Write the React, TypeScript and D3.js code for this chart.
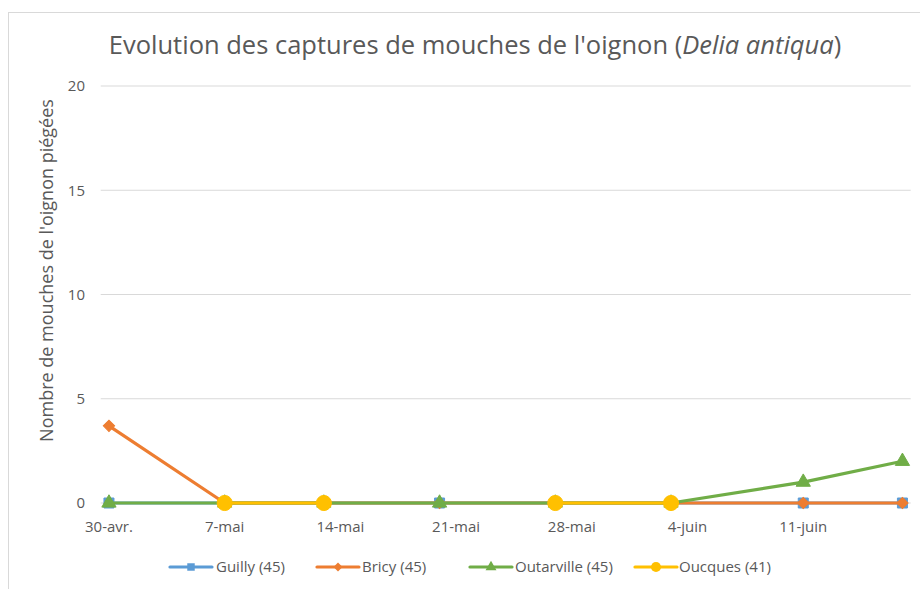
import React, { useEffect, useRef } from 'react';
import * as d3 from 'd3';

// sampling dates (date axis, as in the original workbook)
const dates = ['2021-04-30', '2021-05-07', '2021-05-13', '2021-05-20', '2021-05-27', '2021-06-03', '2021-06-11', '2021-06-17'];
const guilly: (number | null)[] = [0, 0, 0, 0, 0, 0, 0, 0];
const bricy: (number | null)[] = [3.7, 0, 0, 0, 0, 0, 0, 0];
const outarville: (number | null)[] = [0, 0, 0, 0, 0, 0, 1, 2];
const oucques: (number | null)[] = [null, 0, 0, null, 0, 0, null, null];

const tickDates = ['2021-04-30', '2021-05-07', '2021-05-14', '2021-05-21', '2021-05-28', '2021-06-04', '2021-06-11'];
const tickLabels = ['30-avr.', '7-mai', '14-mai', '21-mai', '28-mai', '4-juin', '11-juin'];
const yTicks = [0, 5, 10, 15, 20];

const series = [
  { name: 'Guilly (45)', values: guilly, color: '#5B9BD5', marker: 'square' },
  { name: 'Bricy (45)', values: bricy, color: '#ED7D31', marker: 'diamond' },
  { name: 'Outarville (45)', values: outarville, color: '#70AD47', marker: 'triangle' },
  { name: 'Oucques (41)', values: oucques, color: '#FFC000', marker: 'circle' },
];

const FONT = '"Open Sans", sans-serif';
const DAY = 86400000;
const toDate = (s: string) => new Date(s + 'T00:00:00Z');

const markerPath = (type: string, big: boolean) => {
  if (type === 'square') return d3.symbol(d3.symbolSquare, big ? 100 : 56)();
  if (type === 'diamond') return d3.symbol(d3.symbolSquare, big ? 64 : 40)();
  if (type === 'triangle') return d3.symbol(d3.symbolTriangle, big ? 88 : 52)();
  return d3.symbol(d3.symbolCircle, big ? 180 : 80)();
};

const App: React.FC = () => {
  const ref = useRef<SVGSVGElement>(null);

  useEffect(() => {
    if (!ref.current) return;
    const svg = d3.select(ref.current);
    svg.selectAll('*').remove();

    const t0 = toDate(dates[0]).getTime();
    const tN = toDate(dates[dates.length - 1]).getTime();
    const x = d3.scaleUtc()
      .domain([new Date(t0 - DAY / 2), new Date(tN + DAY / 2)])
      .range([100.7, 910.7]);
    const y = d3.scaleLinear().domain([0, 20]).range([503, 86]);

    svg.append('rect')
      .attr('x', 8.5).attr('y', 12.5)
      .attr('width', 940).attr('height', 600)
      .attr('fill', '#fff').attr('stroke', '#D9D9D9');

    // title
    const title = svg.append('text')
      .attr('x', 475).attr('y', 54)
      .attr('text-anchor', 'middle')
      .attr('font-family', FONT)
      .attr('font-size', 25.5)
      .attr('fill', '#595959');
    title.append('tspan').text("Evolution des captures de mouches de l'oignon (");
    title.append('tspan').attr('font-style', 'italic').text('Delia antiqua');
    title.append('tspan').text(')');

    // gridlines + y labels
    yTicks.forEach(v => {
      svg.append('line')
        .attr('x1', x.range()[0]).attr('x2', x.range()[1])
        .attr('y1', y(v)).attr('y2', y(v))
        .attr('stroke', '#D9D9D9').attr('stroke-width', 1.2);
      svg.append('text')
        .attr('x', 85).attr('y', y(v))
        .attr('dy', '0.35em')
        .attr('text-anchor', 'end')
        .attr('font-family', FONT)
        .attr('font-size', 15)
        .attr('fill', '#595959')
        .text(v);
    });

    // x labels
    tickDates.forEach((d, i) => {
      svg.append('text')
        .attr('x', x(toDate(d)))
        .attr('y', 532)
        .attr('text-anchor', 'middle')
        .attr('font-family', FONT)
        .attr('font-size', 15)
        .attr('fill', '#595959')
        .text(tickLabels[i]);
    });

    // y axis title
    svg.append('text')
      .attr('transform', `translate(53,${(104 + 437) / 2}) rotate(-90)`)
      .attr('text-anchor', 'middle')
      .attr('font-family', FONT)
      .attr('font-size', 18)
      .attr('fill', '#595959')
      .text("Nombre de mouches de l'oignon piégées");

    const line = d3.line<number | null>()
      .defined(v => v != null)
      .x((_, i) => x(toDate(dates[i])))
      .y(v => y(v as number));

    series.forEach(s => {
      svg.append('path')
        .attr('d', line(s.values))
        .attr('fill', 'none')
        .attr('stroke', s.color)
        .attr('stroke-width', 3.2)
        .attr('stroke-linejoin', 'round');
      s.values.forEach((v, i) => {
        if (v == null) return;
        const cx = x(toDate(dates[i]));
        svg.append('path')
          .attr('d', markerPath(s.marker, true))
          .attr('transform', `translate(${cx},${y(v)})${s.marker === 'diamond' ? ' rotate(45)' : ''}`)
          .attr('fill', s.color)
          .attr('stroke', s.color)
          .attr('stroke-width', 1);
      });
    });

    // legend
    const legendItems = [
      { x0: 170, tx: 216 },
      { x0: 317, tx: 362 },
      { x0: 470, tx: 515 },
      { x0: 635, tx: 679 },
    ];
    series.forEach((s, i) => {
      const { x0, tx } = legendItems[i];
      const ly = 567;
      const g = svg.append('g');
      g.append('line')
        .attr('x1', x0).attr('x2', x0 + 42)
        .attr('y1', ly).attr('y2', ly)
        .attr('stroke', s.color).attr('stroke-width', 3.2)
        .attr('stroke-linecap', 'round');
      g.append('path')
        .attr('d', markerPath(s.marker, false))
        .attr('transform', `translate(${x0 + 21},${ly})${s.marker === 'diamond' ? ' rotate(45)' : ''}`)
        .attr('fill', s.color);
      g.append('text')
        .attr('x', tx).attr('y', ly)
        .attr('dy', '0.35em')
        .attr('font-family', FONT)
        .attr('font-size', 15)
        .attr('fill', '#595959')
        .text(s.name);
    });
  }, []);

  return (
    <svg
      ref={ref}
      width={920}
      height={589}
      style={{ position: 'absolute', left: 0, top: 0, background: '#fff' }}
    />
  );
};

export default App;
